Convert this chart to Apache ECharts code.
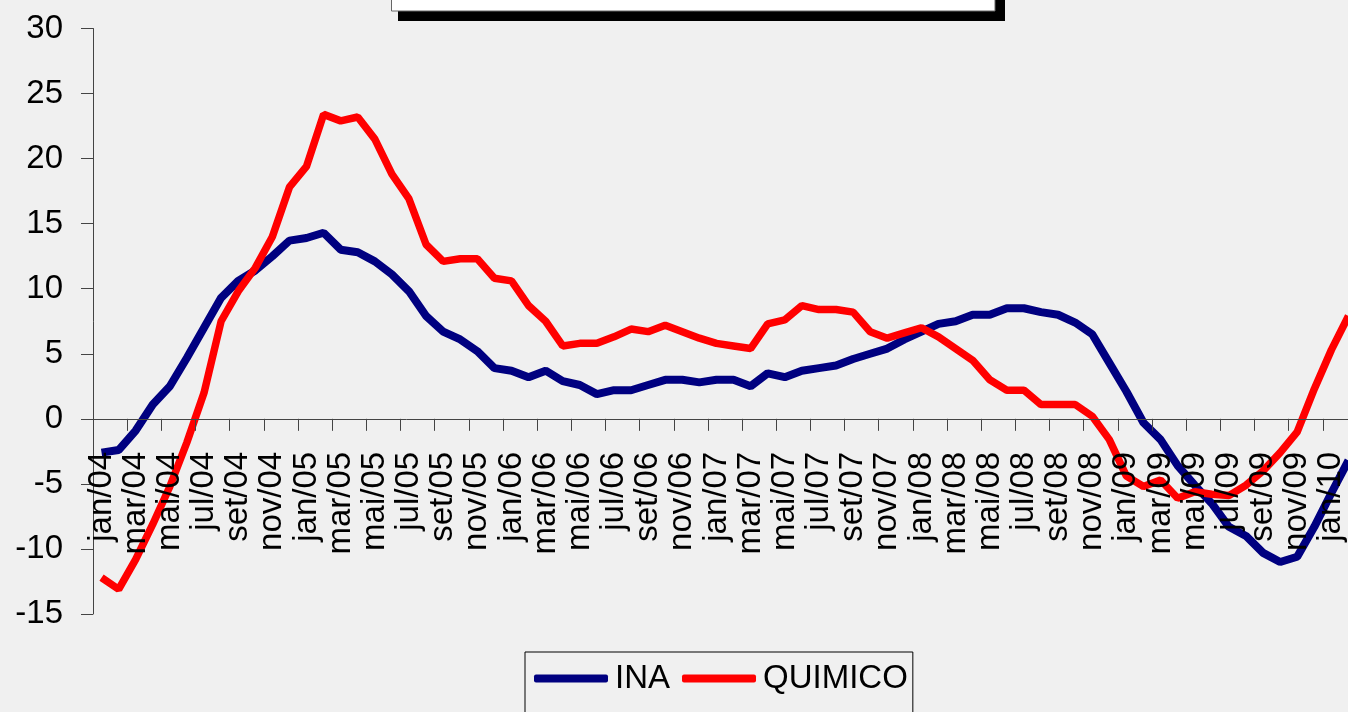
<!DOCTYPE html>
<html>
<head>
<meta charset="utf-8">
<script src="https://cdn.jsdelivr.net/npm/echarts@6/dist/echarts.min.js"></script>
<style>
  html, body { margin: 0; padding: 0; background: #f0f0f0; }
  #chart { width: 1348px; height: 712px; }
</style>
</head>
<body>
<div id="chart"></div>
<script>
const months = ["jan", "fev", "mar", "abr", "mai", "jun", "jul", "ago", "set", "out", "nov", "dez"];
const years = ["04", "05", "06", "07", "08", "09", "10"];

// jan/04 .. fev/10
const categories = [];
years.forEach(function (y) {
  months.forEach(function (m) {
    categories.push(m + "/" + y);
  });
});
categories.length = 74;

const ina = [
  -2.6, -2.4, -0.9, 1.1, 2.5, 4.7, 7.0, 9.3, 10.6, 11.4, 12.5, 13.7,
  13.9, 14.3, 13.0, 12.8, 12.1, 11.1, 9.8, 7.9, 6.7, 6.1, 5.2, 3.9,
  3.7, 3.2, 3.7, 2.9, 2.6, 1.9, 2.2, 2.2, 2.6, 3.0, 3.0, 2.8,
  3.0, 3.0, 2.5, 3.5, 3.2, 3.7, 3.9, 4.1, 4.6, 5.0, 5.4, 6.1,
  6.7, 7.3, 7.5, 8.0, 8.0, 8.5, 8.5, 8.2, 8.0, 7.4, 6.5, 4.3,
  2.1, -0.3, -1.6, -3.6, -5.1, -6.5, -8.3, -9.0, -10.3, -11.0, -10.6, -8.3,
  -5.7, -3.2
];

const quimico = [
  -12.2, -13.1, -10.8, -8.1, -5.2, -1.8, 2.0, 7.5, 9.8, 11.6, 14.0, 17.8,
  19.4, 23.4, 22.9, 23.2, 21.5, 18.8, 16.9, 13.4, 12.1, 12.3, 12.3, 10.8,
  10.6, 8.7, 7.5, 5.6, 5.8, 5.8, 6.3, 6.9, 6.7, 7.2, 6.7, 6.2,
  5.8, 5.6, 5.4, 7.3, 7.6, 8.7, 8.4, 8.4, 8.2, 6.7, 6.2, 6.6,
  7.0, 6.3, 5.4, 4.5, 3.0, 2.2, 2.2, 1.1, 1.1, 1.1, 0.2, -1.6,
  -4.4, -5.2, -4.7, -6.1, -5.6, -5.8, -5.9, -5.1, -4.0, -2.6, -1.0, 2.3,
  5.3, 7.9
];

const font = "'Liberation Sans', Arial, sans-serif";

// plot area: y=30 at 28.5px, y=-15 at 614px
const gridTop = 28.5;
const gridBottomY = 614;
const zeroY = gridTop + (gridBottomY - gridTop) * 30 / 45;

const chart = echarts.init(document.getElementById("chart"));
chart.setOption({
  animation: false,
  backgroundColor: "#f0f0f0",
  grid: {
    left: 93,
    right: -9,
    top: gridTop,
    bottom: 712 - gridBottomY,
    containLabel: false,
    outerBoundsMode: "none",
  },
  graphic: [
    // title box, cut off at the top
    { type: "rect", shape: { x: 398, y: -20, width: 607, height: 41 }, style: { fill: "#000" } },
    { type: "rect", shape: { x: 391.5, y: -20, width: 603.5, height: 31 }, style: { fill: "#fff", stroke: "#666", lineWidth: 1 } },
  ],
  legend: {
    data: ["INA", "QUIMICO"],
    left: 525,
    top: 652,
    padding: [10, 5, 30, 9],
    borderColor: "#000",
    borderWidth: 1,
    icon: "roundRect",
    itemWidth: 74,
    itemHeight: 8,
    itemGap: 12,
    textStyle: { fontSize: 33, color: "#000", fontFamily: font, padding: [0, 0, 0, 2] },
  },
  xAxis: {
    type: "category",
    data: categories,
    boundaryGap: true,
    position: "bottom",
    offset: -(gridBottomY - zeroY),
    z: 5,
    axisLine: { onZero: false, lineStyle: { color: "#444", width: 1 } },
    axisTick: { show: true, interval: 1, length: 12, lineStyle: { color: "#444" } },
    axisLabel: {
      interval: 1,
      rotate: 90,
      margin: 33,
      fontSize: 33,
      color: "#000",
      fontFamily: font,
    },
    splitLine: { show: false },
  },
  yAxis: {
    type: "value",
    min: -15,
    max: 30,
    interval: 5,
    axisLine: { show: true, lineStyle: { color: "#444", width: 1 } },
    axisTick: { show: true, length: 12, lineStyle: { color: "#444" } },
    axisLabel: { fontSize: 33, color: "#000", margin: 30, fontFamily: font },
    splitLine: { show: false },
  },
  series: [
    {
      name: "INA",
      type: "line",
      data: ina,
      showSymbol: false,
      symbol: "none",
      color: "#000080",
      lineStyle: { color: "#000080", width: 8 },
    },
    {
      name: "QUIMICO",
      type: "line",
      data: quimico,
      showSymbol: false,
      symbol: "none",
      color: "#ff0000",
      lineStyle: { color: "#ff0000", width: 7.5 },
    },
  ],
});
</script>
</body>
</html>
